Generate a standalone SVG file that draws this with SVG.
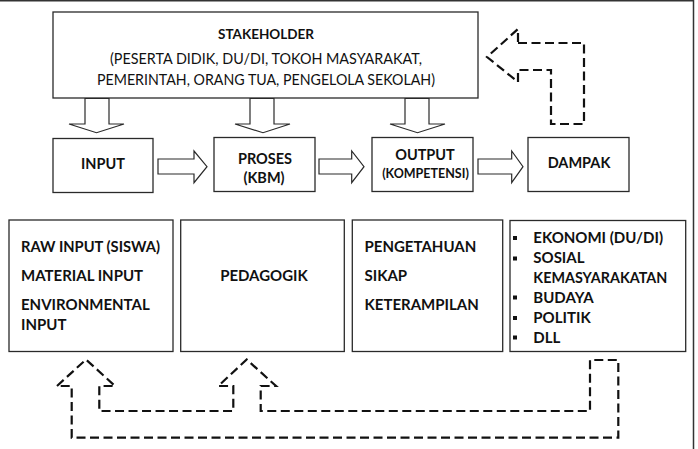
<svg xmlns="http://www.w3.org/2000/svg" width="698" height="449" viewBox="0 0 698 449">
<style>
.box{fill:#fff;stroke:#2a2a2a;stroke-width:1.3}
.frame{stroke:#333;stroke-width:1.5;fill:none}
.harrow{fill:#fff;stroke:#2a2a2a;stroke-width:1.2;stroke-linejoin:miter}
.dash{fill:none;stroke:#111;stroke-width:2.2;stroke-dasharray:9 4.5;stroke-linejoin:miter}
text{font-family:Lato,"Open Sans","Liberation Sans",sans-serif;fill:#111}
.b{font-weight:bold;font-size:15px}
.r2{font-weight:bold;font-size:14.5px;text-anchor:middle}
.reg{font-size:15px;text-anchor:middle}
.bul{fill:#111}
</style>
<rect width="698" height="449" fill="#fff"/>
<g id="frame">
<line class="frame" x1="0" y1="0.75" x2="694" y2="0.75"/>
<line class="frame" x1="693.5" y1="0" x2="693.5" y2="449"/>
</g>
<g id="stakeholder">
<rect class="box" x="53" y="12" width="425" height="86"/>
<text x="266" y="38.5" style="font-weight:bold;font-size:13.5px;text-anchor:middle">STAKEHOLDER</text>
<text class="reg" x="266" y="64" textLength="312" lengthAdjust="spacingAndGlyphs">(PESERTA DIDIK, DU/DI, TOKOH MASYARAKAT,</text>
<text class="reg" x="266" y="84.5" textLength="338" lengthAdjust="spacingAndGlyphs">PEMERINTAH, ORANG TUA, PENGELOLA SEKOLAH)</text>
</g>
<g id="input">
<rect class="box" x="53" y="138.5" width="100" height="54"/>
<text class="r2" x="103" y="169">INPUT</text>
</g>
<g id="proses">
<rect class="box" x="214" y="137.5" width="101" height="54"/>
<text class="r2" x="265" y="164">PROSES</text>
<text class="r2" x="264" y="183">(KBM)</text>
</g>
<g id="output">
<rect class="box" x="372" y="137.5" width="101" height="54"/>
<text class="r2" x="425" y="160">OUTPUT</text>
<text x="425.5" y="177.5" style="font-weight:bold;font-size:12.5px;text-anchor:middle">(KOMPETENSI)</text>
</g>
<g id="dampak">
<rect class="box" x="528" y="137.5" width="101" height="54"/>
<text class="r2" x="579" y="168">DAMPAK</text>
</g>
<g id="detail-input">
<rect class="box" x="9" y="220" width="164" height="131.5"/>
<text class="b" x="21" y="251.7" textLength="139" lengthAdjust="spacingAndGlyphs">RAW INPUT (SISWA)</text>
<text class="b" x="21" y="280.7">MATERIAL INPUT</text>
<text class="b" x="21" y="310">ENVIRONMENTAL</text>
<text class="b" x="21" y="330">INPUT</text>
</g>
<g id="detail-proses">
<rect class="box" x="180.7" y="220" width="163.6" height="131.5"/>
<text class="b" x="264" y="281" text-anchor="middle">PEDAGOGIK</text>
</g>
<g id="detail-output">
<rect class="box" x="352.3" y="220" width="150.4" height="131.5"/>
<text class="b" x="364.5" y="251.7">PENGETAHUAN</text>
<text class="b" x="364.5" y="281">SIKAP</text>
<text class="b" x="364.5" y="309.7">KETERAMPILAN</text>
</g>
<g id="detail-dampak">
<rect class="box" x="510" y="220.5" width="175.7" height="131"/>
<rect class="bul" x="513" y="236" width="4" height="4"/>
<rect class="bul" x="513" y="256.5" width="4" height="4"/>
<rect class="bul" x="513" y="295.5" width="4" height="4"/>
<rect class="bul" x="513" y="316" width="4" height="4"/>
<rect class="bul" x="513" y="335.5" width="4" height="4"/>
<text class="b" x="533.3" y="243.3">EKONOMI (DU/DI)</text>
<text class="b" x="533.3" y="263.3">SOSIAL</text>
<text class="b" x="533.3" y="282.7" textLength="134" lengthAdjust="spacingAndGlyphs">KEMASYARAKATAN</text>
<text class="b" x="533.3" y="303.3">BUDAYA</text>
<text class="b" x="533.3" y="323.3">POLITIK</text>
<text class="b" x="533.3" y="342.7">DLL</text>
</g>
<g id="connectors">
<polygon class="harrow" points="85,98.5 109,98.5 109,124 124,124 96.5,132.7 69,124 85,124"/>
<polygon class="harrow" points="250,98.5 274,98.5 274,124 290,124 263,132.7 235,124 250,124"/>
<polygon class="harrow" points="405,98.5 429,98.5 429,124 445,124 417.5,132.7 390,124 405,124"/>
<polygon class="harrow" points="158,159 194,159 194,151 207,166.7 194,182.7 194,174 158,174"/>
<polygon class="harrow" points="319,159 351.7,159 351.7,151 364,166.7 351.7,182.7 351.7,174 319,174"/>
<polygon class="harrow" points="478,159 511.7,159 511.7,151 523,166.7 511.7,182.7 511.7,174 478,174"/>
<polygon class="dash" points="518,43 584,43 584,124 551,124 551,70 518,70 518,82 487,57 518,29"/>
<polygon class="dash" points="57,386 86,359.5 115,386 99.3,386 99.3,411 233.3,411 233.3,386 218.3,386 246.7,359.5 276,386 260.7,386 260.7,411 590,411 590,360 618.3,360 618.3,437.7 71.7,437.7 71.7,386"/>
</g>
</svg>
